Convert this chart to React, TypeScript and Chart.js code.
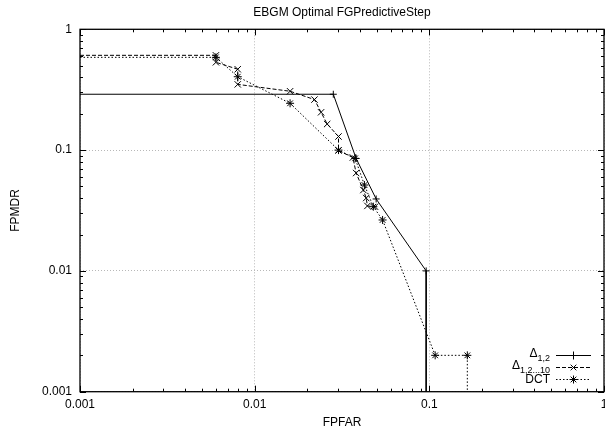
import React, { useEffect, useRef } from 'react';
import { Chart, registerables } from 'chart.js';

Chart.register(...registerables);

const TITLE = 'EBGM Optimal FGPredictiveStep';
const X_TITLE = 'FPFAR';
const Y_TITLE = 'FPMDR';

const xTickValues = [0.001, 0.01, 0.1, 1];
const xTickLabels = ['0.001', '0.01', '0.1', '1'];
const yTickValues = [0.001, 0.01, 0.1, 1];
const yTickLabels = ['0.001', '0.01', '0.1', '1'];

// Δ1,2 (solid, +)
const delta12X = [0.001, 0.0282, 0.0381, 0.0496, 0.0959, 0.0959];
const delta12Y = [0.29, 0.29, 0.0852, 0.0394, 0.01, 0.001];

// Δ1,2...10 (dashed, ×)
const delta1210X = [0.001, 0.006, 0.006, 0.008, 0.008, 0.01595, 0.022, 0.024, 0.026, 0.0302, 0.0302, 0.0365, 0.0381, 0.0419, 0.0435, 0.0442, 0.0489];
const delta1210Y = [0.609, 0.609, 0.533, 0.467, 0.35, 0.307, 0.262, 0.2056, 0.1644, 0.1296, 0.0992, 0.0868, 0.0646, 0.0467, 0.0401, 0.0345, 0.034];

// DCT (dotted, *)
const dctX = [0.001, 0.006, 0.008, 0.01595, 0.0302, 0.0376, 0.0425, 0.0478, 0.054, 0.108, 0.165, 0.165];
const dctY = [0.586, 0.586, 0.405, 0.244, 0.1, 0.0855, 0.0514, 0.034, 0.0264, 0.002, 0.002, 0.001];

const legendMain = ['Δ', 'Δ', 'DCT'];
const legendSub = ['1,2', '1,2...10', ''];

const FONT = "'Liberation Sans', Arial, Helvetica, sans-serif";

const toPoints = (xs: number[], ys: number[]) => xs.map((x, i) => ({ x, y: ys[i] }));

const edgeRadius = (r: number) => (ctx: any) => {
  const p = ctx.raw;
  if (!p) return r;
  if (p.x <= 0.001 || p.y <= 0.001) return 0;
  return r;
};

function drawMarker(ctx: CanvasRenderingContext2D, style: string, x: number, y: number, r: number) {
  ctx.beginPath();
  if (style === 'cross' || style === 'star') {
    ctx.moveTo(x - r, y);
    ctx.lineTo(x + r, y);
    ctx.moveTo(x, y - r);
    ctx.lineTo(x, y + r);
  }
  if (style === 'crossRot' || style === 'star') {
    const o = r * Math.SQRT1_2;
    ctx.moveTo(x - o, y - o);
    ctx.lineTo(x + o, y + o);
    ctx.moveTo(x + o, y - o);
    ctx.lineTo(x - o, y + o);
  }
  ctx.stroke();
}

const framePlugin = {
  id: 'frame',
  afterDatasetsDraw(chart: any) {
    const { ctx, chartArea } = chart;
    const { left, right, top, bottom } = chartArea;
    const xs = chart.scales.x;
    const ys = chart.scales.y;
    ctx.save();
    ctx.strokeStyle = '#000';
    ctx.lineWidth = 1;
    ctx.setLineDash([]);
    ctx.beginPath();
    for (let d = -3; d <= 0; d++) {
      for (let m = 1; m <= 9; m++) {
        const v = m * Math.pow(10, d);
        if (v > 1.0001) break;
        const len = m === 1 ? 6 : 3;
        const px = Math.round(xs.getPixelForValue(v)) + 0.5;
        ctx.moveTo(px, bottom);
        ctx.lineTo(px, bottom - len);
        ctx.moveTo(px, top);
        ctx.lineTo(px, top + len);
        const py = Math.round(ys.getPixelForValue(v)) + 0.5;
        ctx.moveTo(left, py);
        ctx.lineTo(left + len, py);
        ctx.moveTo(right, py);
        ctx.lineTo(right - len, py);
      }
    }
    ctx.stroke();
    ctx.lineWidth = 1.3;
    ctx.strokeRect(left, top, right - left, bottom - top);
    ctx.restore();
  },
};

const legendPlugin = {
  id: 'customLegend',
  afterDraw(chart: any) {
    const { ctx } = chart;
    const ys = chart.scales.y;
    const baseY = ys.getPixelForValue(0.002);
    const textRight = 550;
    const sampleL = 556;
    const sampleR = 591;
    ctx.save();
    chart.data.datasets.forEach((ds: any, i: number) => {
      const cy = baseY + i * 12;
      ctx.fillStyle = '#000';
      ctx.textBaseline = 'middle';
      ctx.textAlign = 'left';
      ctx.font = `12px ${FONT}`;
      const mw = ctx.measureText(legendMain[i]).width;
      ctx.font = `9px ${FONT}`;
      const sw = legendSub[i] ? ctx.measureText(legendSub[i]).width : 0;
      const x0 = textRight - mw - sw;
      ctx.font = `12px ${FONT}`;
      ctx.fillText(legendMain[i], x0, legendSub[i] ? cy - 2 : cy);
      if (legendSub[i]) {
        ctx.font = `9px ${FONT}`;
        ctx.fillText(legendSub[i], x0 + mw, cy + 3);
      }
      ctx.strokeStyle = ds.borderColor;
      ctx.lineWidth = 1;
      ctx.setLineDash(ds.borderDash || []);
      ctx.beginPath();
      ctx.moveTo(sampleL, Math.round(cy) + 0.5);
      ctx.lineTo(sampleR, Math.round(cy) + 0.5);
      ctx.stroke();
      ctx.setLineDash([]);
      const r = typeof ds.pointRadius === 'number' ? ds.pointRadius : 4;
      drawMarker(ctx, ds.pointStyle, (sampleL + sampleR) / 2, Math.round(cy) + 0.5, r);
    });
    ctx.restore();
  },
};

export default function App() {
  const ref = useRef<HTMLCanvasElement>(null);
  useEffect(() => {
    document.body.style.margin = '0';
    document.body.style.overflow = 'hidden';
    const canvas = ref.current;
    if (!canvas) return;
    const chart = new Chart(canvas, {
      type: 'line',
      data: {
        datasets: [
          {
            label: 'Δ1,2',
            data: toPoints(delta12X, delta12Y),
            borderColor: '#000',
            borderWidth: 1,
            borderDash: [],
            pointStyle: 'cross',
            pointRadius: 3.5,
            pointBorderColor: '#000',
            pointBorderWidth: 1,
            tension: 0,
          } as any,
          {
            label: 'Δ1,2...10',
            data: toPoints(delta1210X, delta1210Y),
            borderColor: '#000',
            borderWidth: 1,
            borderDash: [4, 2],
            pointStyle: 'crossRot',
            pointRadius: 4.5,
            pointBorderColor: '#000',
            pointBorderWidth: 1,
            tension: 0,
          } as any,
          {
            label: 'DCT',
            data: toPoints(dctX, dctY),
            borderColor: '#000',
            borderWidth: 1,
            borderDash: [1.5, 2],
            pointStyle: 'star',
            pointRadius: 4,
            pointBorderColor: '#000',
            pointBorderWidth: 1,
            tension: 0,
          } as any,
        ].map((d: any) => ({ ...d, radius: undefined, pointRadius: edgeRadius(d.pointRadius), _r: d.pointRadius })),
      },
      options: {
        responsive: false,
        animation: false,
        devicePixelRatio: 1,
        layout: { padding: { left: 0, right: 36, top: 0, bottom: 0 } },
        plugins: {
          legend: { display: false },
          tooltip: { enabled: false },
          title: {
            display: true,
            text: TITLE,
            fullSize: false,
            color: '#000',
            font: { size: 12, family: FONT, weight: 'normal' },
            padding: { top: 5, bottom: 9.9 },
          },
        },
        scales: {
          x: {
            type: 'logarithmic',
            position: 'bottom',
            min: 0.001,
            max: 1,
            afterBuildTicks: (s: any) => {
              s.ticks = xTickValues.map((v) => ({ value: v }));
            },
            afterFit: (s: any) => {
              s.height = 40.3;
            },
            ticks: {
              autoSkip: false,
              maxRotation: 0,
              padding: 6,
              color: '#000',
              font: { size: 12, family: FONT },
              callback: (v: any) => {
                const i = xTickValues.indexOf(Number(v));
                return i >= 0 ? xTickLabels[i] : '';
              },
            },
            grid: {
              drawTicks: false,
              color: '#b8b8b8',
              lineWidth: 1,
            },
            border: { display: false, dash: [1, 2] },
            title: {
              display: true,
              text: X_TITLE,
              color: '#000',
              font: { size: 12, family: FONT },
              padding: { top: 2.5, bottom: 2.5 },
            },
          },
          y: {
            type: 'logarithmic',
            position: 'left',
            min: 0.001,
            max: 1,
            afterBuildTicks: (s: any) => {
              s.ticks = yTickValues.map((v) => ({ value: v }));
            },
            afterFit: (s: any) => {
              s.width = 80;
            },
            ticks: {
              autoSkip: false,
              padding: 8,
              color: '#000',
              font: { size: 12, family: FONT },
              callback: (v: any) => {
                const i = yTickValues.indexOf(Number(v));
                return i >= 0 ? yTickLabels[i] : '';
              },
            },
            grid: {
              drawTicks: false,
              color: '#b8b8b8',
              lineWidth: 1,
            },
            border: { display: false, dash: [1, 2] },
            title: {
              display: true,
              text: Y_TITLE,
              color: '#000',
              font: { size: 12, family: FONT },
              padding: { top: 8.8, bottom: 8.8 },
            },
          },
        },
      } as any,
      plugins: [framePlugin, legendPlugin],
    });
    return () => chart.destroy();
  }, []);
  return (
    <div style={{ position: 'fixed', left: 0, top: 0, width: 640, height: 432 }}>
      <canvas ref={ref} width={640} height={432} style={{ width: 640, height: 432, display: 'block' }} />
    </div>
  );
}
